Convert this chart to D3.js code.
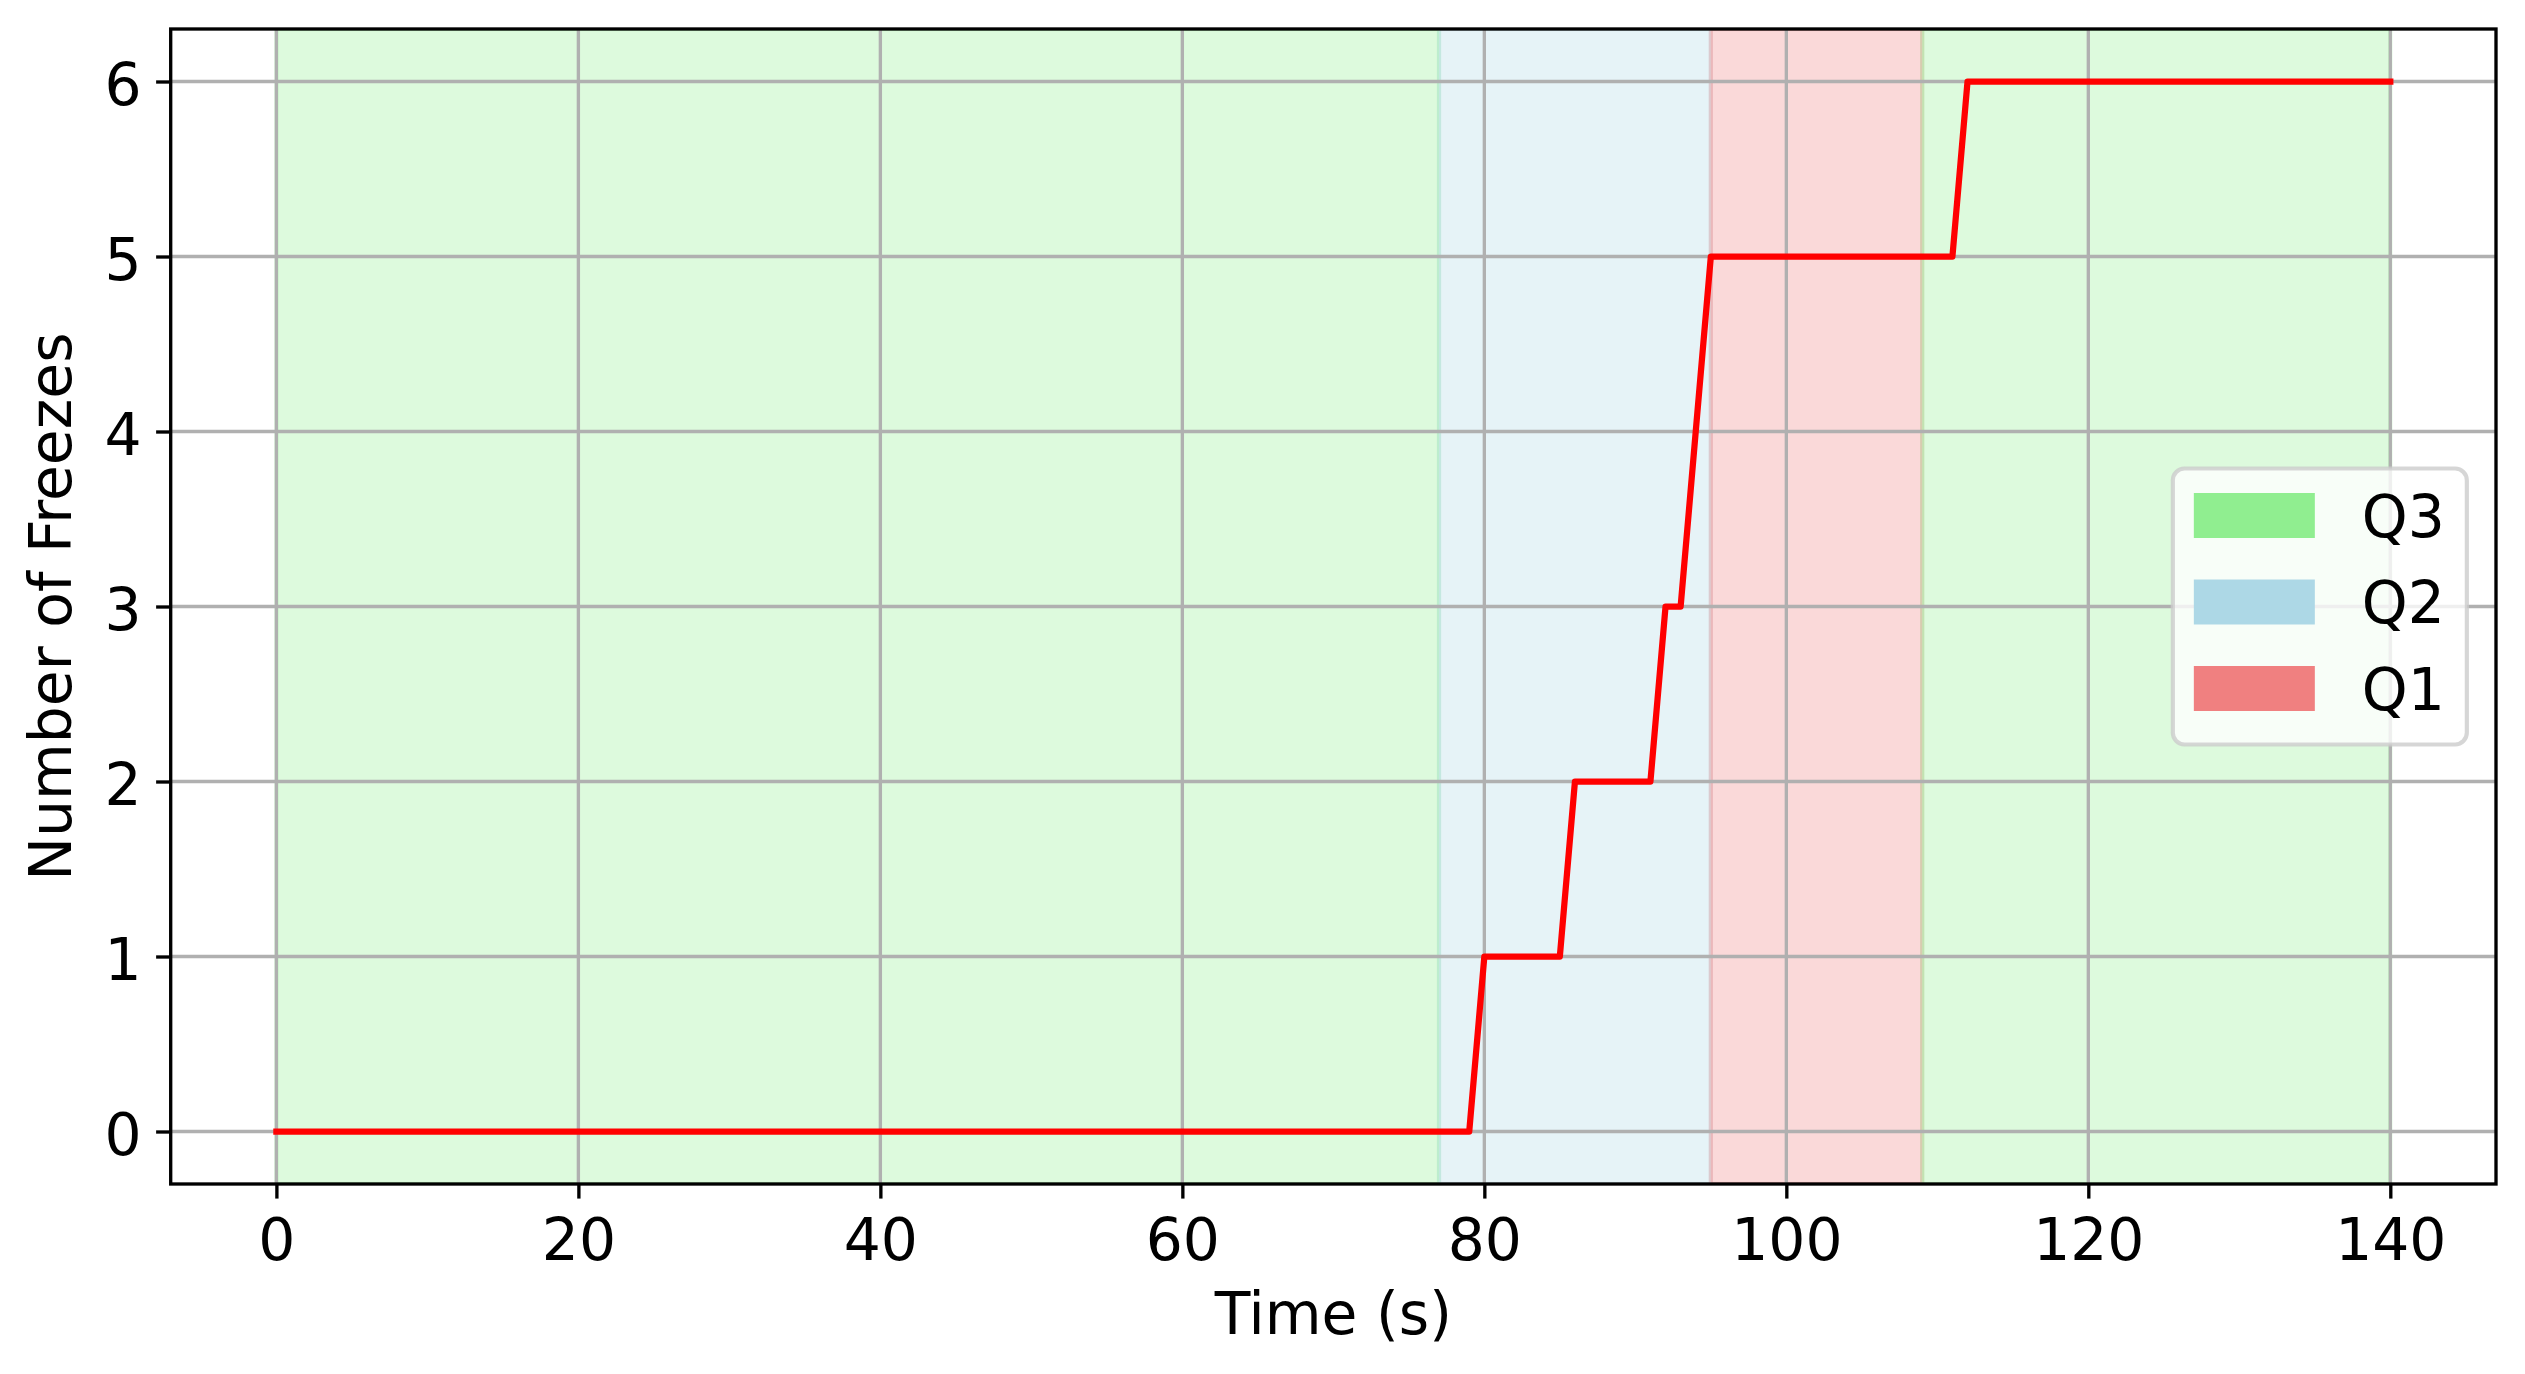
<!DOCTYPE html>
<html>
<head>
<meta charset="utf-8">
<script src="https://cdn.jsdelivr.net/npm/d3@7"></script>
<style>
  body { margin: 0; background: #fff; overflow: hidden; }
  text { font-family: "DejaVu Sans", sans-serif; fill: #000; }
</style>
</head>
<body>
<svg id="chart" width="2525" height="1374"></svg>
<script>
// Data
var times = [0, 79, 80, 85, 86, 91, 92, 93, 94, 95, 111, 112, 140]
var freezes = [0, 0, 1, 1, 2, 2, 3, 3, 4, 5, 5, 6, 6]

// Shaded phases (start, end, label)
var spanStarts = [0, 77, 95, 109]
var spanEnds = [77, 95, 109, 140]
var spanLabels = ['Q3', 'Q2', 'Q1', 'Q3']

var legendLabels = ['Q3', 'Q2', 'Q1']
var legendColors = ['#90ee90', '#add8e6', '#f08080']

var xTicks = [0, 20, 40, 60, 80, 100, 120, 140]
var yTicks = [0, 1, 2, 3, 4, 5, 6]

// 300 dpi: 1pt = 300/72 px
var pt = 300 / 72
var fontSize = 14 * pt

var svg = d3.select('#chart')
var margin = { left: 170.7, right: 2525 - 2496, top: 29, bottom: 1374 - 1184 }
var width = 2525 - margin.left - margin.right
var height = 1374 - margin.top - margin.bottom

var x = d3.scaleLinear().domain([-7, 147]).range([0, width])
var y = d3.scaleLinear().domain([-0.3, 6.3]).range([height, 0])

var colorOf = d3.scaleOrdinal().domain(legendLabels).range(legendColors)

var g = svg.append('g').attr('transform', 'translate(' + margin.left + ',' + margin.top + ')')

g.append('clipPath').attr('id', 'clip')
  .append('rect').attr('width', width).attr('height', height)

// shaded spans
g.append('g')
  .attr('clip-path', 'url(#clip)')
  .selectAll('rect')
  .data(spanStarts)
  .enter()
  .append('rect')
  .attr('x', (d, i) => x(d))
  .attr('width', (d, i) => x(spanEnds[i]) - x(d))
  .attr('y', 0)
  .attr('height', height)
  .attr('fill', (d, i) => colorOf(spanLabels[i]))
  .attr('fill-opacity', 0.3)
  .attr('stroke', (d, i) => colorOf(spanLabels[i]))
  .attr('stroke-opacity', 0.3)
  .attr('stroke-width', 1 * pt)

// grid
g.append('g')
  .selectAll('line')
  .data(xTicks)
  .enter()
  .append('line')
  .attr('x1', d => x(d)).attr('x2', d => x(d))
  .attr('y1', 0).attr('y2', height)
  .attr('stroke', '#b0b0b0')
  .attr('stroke-width', 0.8 * pt)
g.append('g')
  .selectAll('line')
  .data(yTicks)
  .enter()
  .append('line')
  .attr('y1', d => y(d)).attr('y2', d => y(d))
  .attr('x1', 0).attr('x2', width)
  .attr('stroke', '#b0b0b0')
  .attr('stroke-width', 0.8 * pt)

// line
var line = d3.line()
  .x((d, i) => x(times[i]))
  .y(d => y(d))
g.append('path')
  .datum(freezes)
  .attr('d', line)
  .attr('fill', 'none')
  .attr('stroke', '#ff0000')
  .attr('stroke-width', 1.5 * pt)
  .attr('stroke-linejoin', 'round')
  .attr('stroke-linecap', 'square')
  .attr('clip-path', 'url(#clip)')

// axes
var xAxis = d3.axisBottom(x).tickValues(xTicks).tickFormat(d3.format('d'))
  .tickSize(3.5 * pt).tickPadding(3.5 * pt)
var yAxis = d3.axisLeft(y).tickValues(yTicks).tickFormat(d3.format('d'))
  .tickSize(3.5 * pt).tickPadding(3.5 * pt)

var gx = g.append('g').attr('transform', 'translate(0,' + height + ')').call(xAxis)
var gy = g.append('g').call(yAxis)

;[gx, gy].forEach(function (a) {
  a.select('.domain').remove()
  a.selectAll('.tick line').attr('stroke', '#000').attr('stroke-width', 0.8 * pt)
  a.selectAll('.tick text')
    .style('font-family', '"DejaVu Sans", sans-serif')
    .style('font-size', fontSize + 'px')
    .attr('fill', '#000')
})
gx.selectAll('.tick text').attr('dy', '0.8em')
gy.selectAll('.tick text').attr('dy', '0.39em')

// spines
g.append('rect')
  .attr('width', width)
  .attr('height', height)
  .attr('fill', 'none')
  .attr('stroke', '#000')
  .attr('stroke-width', 0.8 * pt)

// axis labels
svg.append('text')
  .attr('x', margin.left + width / 2)
  .attr('y', 1334)
  .attr('text-anchor', 'middle')
  .style('font-size', fontSize + 'px')
  .text('Time (s)')

svg.append('text')
  .attr('transform', 'translate(71,' + (margin.top + height / 2) + ') rotate(-90)')
  .attr('text-anchor', 'middle')
  .style('font-size', fontSize + 'px')
  .text('Number of Freezes')

// legend
var legW = 294, legH = 276
var legX = width - 0.5 * fontSize - legW
var legY = height / 2 - legH / 2
var leg = g.append('g').attr('transform', 'translate(' + legX + ',' + legY + ')')
leg.append('rect')
  .attr('width', legW)
  .attr('height', legH)
  .attr('rx', 0.2 * fontSize)
  .attr('fill', '#fff')
  .attr('fill-opacity', 0.8)
  .attr('stroke', '#cccccc')
  .attr('stroke-opacity', 0.8)
  .attr('stroke-width', 1 * pt)

var items = leg.selectAll('g.item')
  .data(legendLabels)
  .enter()
  .append('g')
  .attr('class', 'item')
  .attr('transform', (d, i) => 'translate(0,' + (47 + i * 86.5) + ')')
items.append('rect')
  .attr('x', 21)
  .attr('y', -22.5)
  .attr('width', 121)
  .attr('height', 45)
  .attr('fill', d => colorOf(d))
items.append('text')
  .attr('x', 189)
  .attr('dy', '0.36em')
  .style('font-size', fontSize + 'px')
  .text(d => d)
</script>
</body>
</html>
